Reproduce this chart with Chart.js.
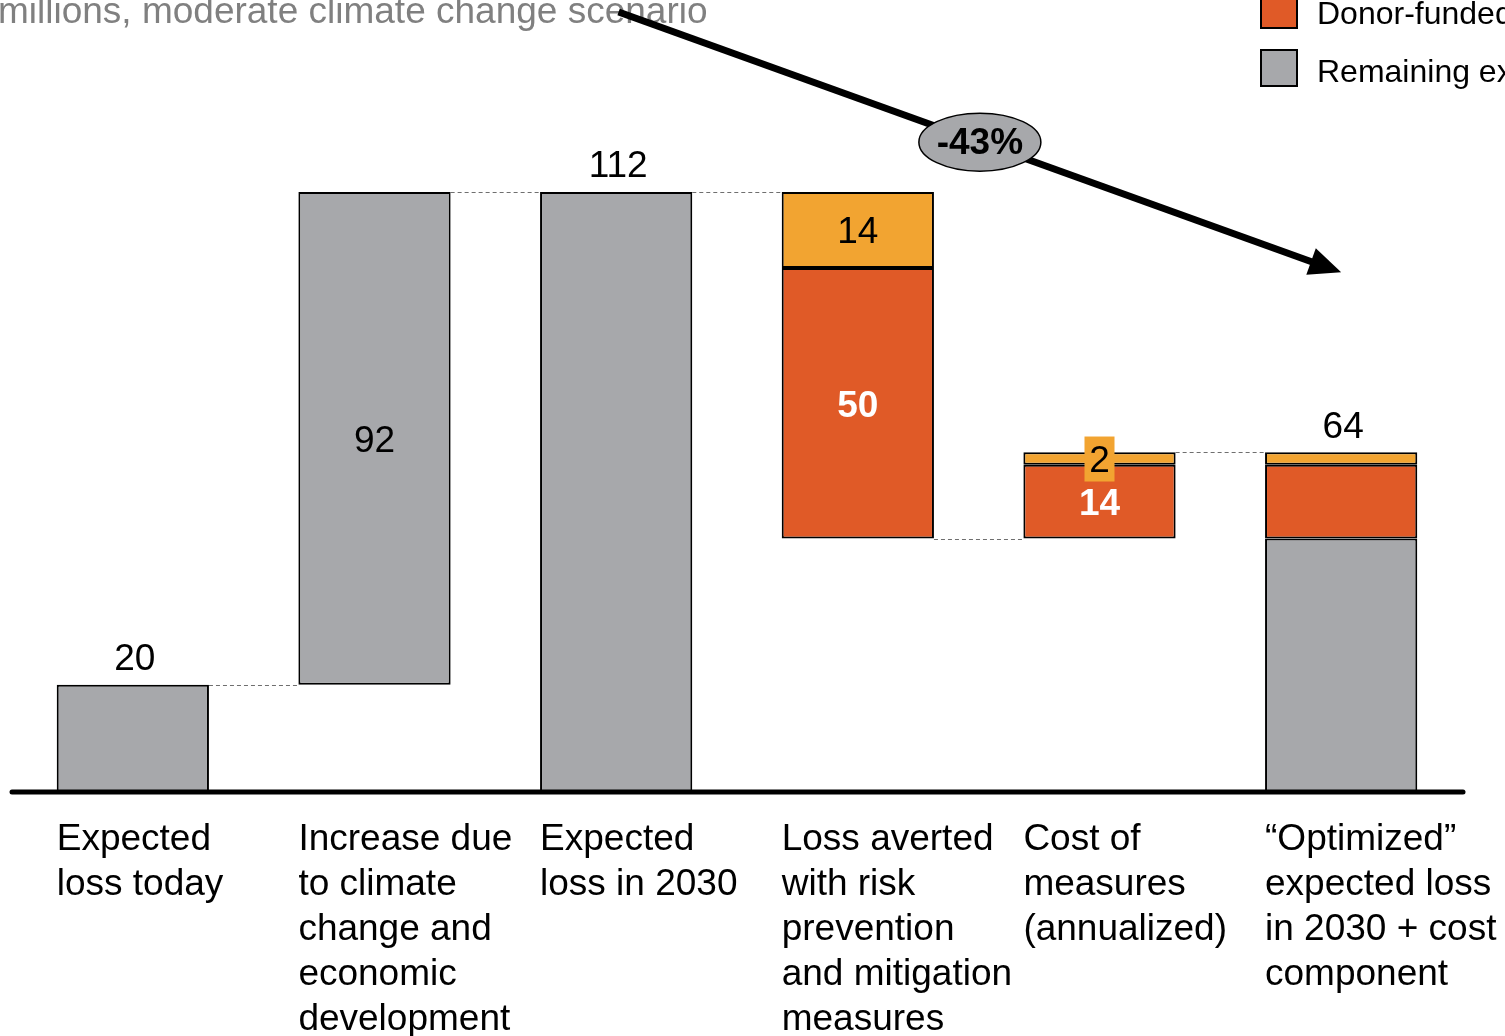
<!DOCTYPE html>
<html>
<head>
<meta charset="utf-8">
<script src="https://cdn.jsdelivr.net/npm/chart.js@4"></script>
<style>
  html, body { margin: 0; padding: 0; background: #fff; overflow: hidden; }
  canvas { display: block; }
</style>
</head>
<body>
<canvas id="chart" width="1505" height="1036"></canvas>
<script>
// categories (multi-line x labels)
const categories = [
  ['Expected', 'loss today'],
  ['Increase due', 'to climate', 'change and', 'economic', 'development'],
  ['Expected', 'loss in 2030'],
  ['Loss averted', 'with risk', 'prevention', 'and mitigation', 'measures'],
  ['Cost of', 'measures', '(annualized)'],
  ['\u201COptimized\u201D', 'expected loss', 'in 2030 + cost', 'component']
];

// waterfall pieces, USD millions
const baseValues = [0, 20, 0, 47.3, 47.3, 0];
const remainingValues = [20, 92, 112, null, null, 47.3];
const donorValues = [null, null, null, 50.5, 13.8, 13.8];
const otherValues = [null, null, null, 14.2, 2.3, 2.3];

// text shown on the bars
const totalLabels = ['20', '', '112', '', '', '64'];
const remainingLabels = ['', '92', '', '', '', ''];
const donorLabels = ['', '', '', '50', '14', ''];
const otherLabels = ['', '', '', '14', '2', ''];

// dashed connectors: level, from bar i to bar i+1
const connectorLevels = [20, 112, 112, 47.3, 63.4];

// trend arrow (category index, value) and its label
const arrowFrom = { x: 2.01, y: 145.6 };
const arrowTo = { x: 5, y: 97.0 };
const arrowLabel = '-43%';

const titleText = 'millions, moderate climate change scenario';
const legendLabels = ['Donor-funded', 'Remaining ex'];

const GREY = '#a7a8ab';
const ORANGE = '#e05a27';
const YELLOW = '#f2a431';
const FONT = '"Liberation Sans", Arial, Helvetica, sans-serif';

function drawText(ctx, text, x, y, opts) {
  ctx.save();
  ctx.font = (opts.bold ? 'bold ' : '') + opts.size + 'px ' + FONT;
  ctx.fillStyle = opts.color || '#000';
  ctx.textAlign = opts.align || 'center';
  ctx.textBaseline = opts.baseline || 'middle';
  ctx.fillText(text, x, y);
  ctx.restore();
}

const waterfallDecor = {
  id: 'waterfallDecor',
  beforeDatasetsDraw(chart) {
    const ctx = chart.ctx;
    const y = chart.scales.y;
    const meta = chart.getDatasetMeta(1);
    // connectors between neighbouring bars
    ctx.save();
    ctx.strokeStyle = '#6f6f6f';
    ctx.lineWidth = 1;
    ctx.setLineDash([4, 3]);
    connectorLevels.forEach((lvl, i) => {
      const a = meta.data[i], b = meta.data[i + 1];
      const py = Math.round(y.getPixelForValue(lvl)) + 0.5;
      ctx.beginPath();
      ctx.moveTo(a.x + a.width / 2, py);
      ctx.lineTo(b.x - b.width / 2, py);
      ctx.stroke();
    });
    ctx.restore();
  },
  afterDatasetsDraw(chart) {
    const ctx = chart.ctx;
    const xs = chart.scales.x;
    const ys = chart.scales.y;
    const ref = chart.getDatasetMeta(1).data;

    // baseline
    const by = ys.getPixelForValue(0);
    ctx.save();
    ctx.strokeStyle = '#000';
    ctx.lineWidth = 5;
    ctx.lineCap = 'round';
    ctx.beginPath();
    ctx.moveTo(chart.chartArea.left, by);
    ctx.lineTo(chart.chartArea.right + 1, by);
    ctx.stroke();
    ctx.restore();

    // segment labels
    const segs = [
      { ds: 1, labels: remainingLabels, color: '#000', bold: false },
      { ds: 2, labels: donorLabels, color: '#fff', bold: true },
      { ds: 3, labels: otherLabels, color: '#000', bold: false }
    ];
    segs.forEach(s => {
      const els = chart.getDatasetMeta(s.ds).data;
      s.labels.forEach((txt, i) => {
        if (!txt) return;
        const el = els[i];
        const cy = (el.y + el.base) / 2;
        if (Math.abs(el.base - el.y) < 30) {
          // small segment: label sits on its own patch
          ctx.save();
          ctx.fillStyle = YELLOW;
          ctx.fillRect(el.x - 15, cy - 22, 30, 45);
          ctx.restore();
        }
        drawText(ctx, txt, el.x, cy + 3, { size: 37, color: s.color, bold: s.bold });
      });
    });

    // totals above the bars
    totalLabels.forEach((txt, i) => {
      if (!txt) return;
      let top = Infinity;
      for (let d = 1; d <= 3; d++) {
        const el = chart.getDatasetMeta(d).data[i];
        if (el && chart.data.datasets[d].data[i] != null) top = Math.min(top, el.y);
      }
      drawText(ctx, txt, ref[i].x + 2, top - 25, { size: 37 });
    });

    // category labels, left aligned to the bar edge
    categories.forEach((lines, i) => {
      const left = ref[i].x - ref[i].width / 2;
      lines.forEach((line, j) => {
        drawText(ctx, line, left, by + 58 + j * 45, { size: 37, align: 'left', baseline: 'alphabetic' });
      });
    });

    // title (cropped at the top of the picture)
    drawText(ctx, titleText, -2, 23, { size: 37, color: '#808080', align: 'left', baseline: 'alphabetic' });

    // legend
    const lx = 1261;
    [[ORANGE, -8], [GREY, 50]].forEach(([col, ty], k) => {
      ctx.save();
      ctx.fillStyle = col;
      ctx.fillRect(lx, ty, 36, 36);
      ctx.strokeStyle = '#000';
      ctx.lineWidth = 2;
      ctx.strokeRect(lx, ty, 36, 36);
      ctx.restore();
      drawText(ctx, legendLabels[k], 1317, ty + 32, { size: 32, align: 'left', baseline: 'alphabetic' });
    });

    // trend arrow with ellipse label
    const x1 = xs.getPixelForValue(arrowFrom.x), y1 = ys.getPixelForValue(arrowFrom.y);
    const x2 = xs.getPixelForValue(arrowTo.x), y2 = ys.getPixelForValue(arrowTo.y);
    const ang = Math.atan2(y2 - y1, x2 - x1);
    const head = 32;
    ctx.save();
    ctx.strokeStyle = '#000';
    ctx.fillStyle = '#000';
    ctx.lineWidth = 7;
    ctx.beginPath();
    ctx.moveTo(x1, y1);
    ctx.lineTo(x2 - Math.cos(ang) * head * 0.8, y2 - Math.sin(ang) * head * 0.8);
    ctx.stroke();
    ctx.beginPath();
    ctx.moveTo(x2, y2);
    ctx.lineTo(x2 - head * Math.cos(ang) + 14 * Math.sin(ang), y2 - head * Math.sin(ang) - 14 * Math.cos(ang));
    ctx.lineTo(x2 - head * Math.cos(ang) - 14 * Math.sin(ang), y2 - head * Math.sin(ang) + 14 * Math.cos(ang));
    ctx.closePath();
    ctx.fill();
    const mx = (x1 + x2) / 2, my = (y1 + y2) / 2;
    ctx.beginPath();
    ctx.ellipse(mx, my, 61, 29, 0, 0, Math.PI * 2);
    ctx.fillStyle = GREY;
    ctx.fill();
    ctx.lineWidth = 1.5;
    ctx.stroke();
    ctx.restore();
    drawText(ctx, arrowLabel, mx, my + 2, { size: 37, bold: true });
  }
};

const barOpts = {
  borderColor: '#000',
  borderWidth: 2,
  borderSkipped: false,
  barPercentage: 0.63,
  categoryPercentage: 1
};

new Chart(document.getElementById('chart'), {
  type: 'bar',
  data: {
    labels: categories.map(c => c.join(' ')),
    datasets: [
      { label: 'base', data: baseValues, backgroundColor: 'rgba(0,0,0,0)', borderWidth: 0, barPercentage: 0.63, categoryPercentage: 1 },
      Object.assign({ label: 'Remaining expected loss', data: remainingValues, backgroundColor: GREY }, barOpts),
      Object.assign({ label: 'Donor-funded', data: donorValues, backgroundColor: ORANGE }, barOpts),
      Object.assign({ label: 'Other', data: otherValues, backgroundColor: YELLOW }, barOpts)
    ]
  },
  options: {
    responsive: false,
    animation: false,
    layout: { padding: { left: 12, right: 43, top: 42, bottom: 244 } },
    scales: {
      x: { stacked: true, display: false },
      y: { stacked: true, display: false, min: 0, max: 140 }
    },
    plugins: { legend: { display: false }, tooltip: { enabled: false } }
  },
  plugins: [waterfallDecor]
});
</script>
</body>
</html>
